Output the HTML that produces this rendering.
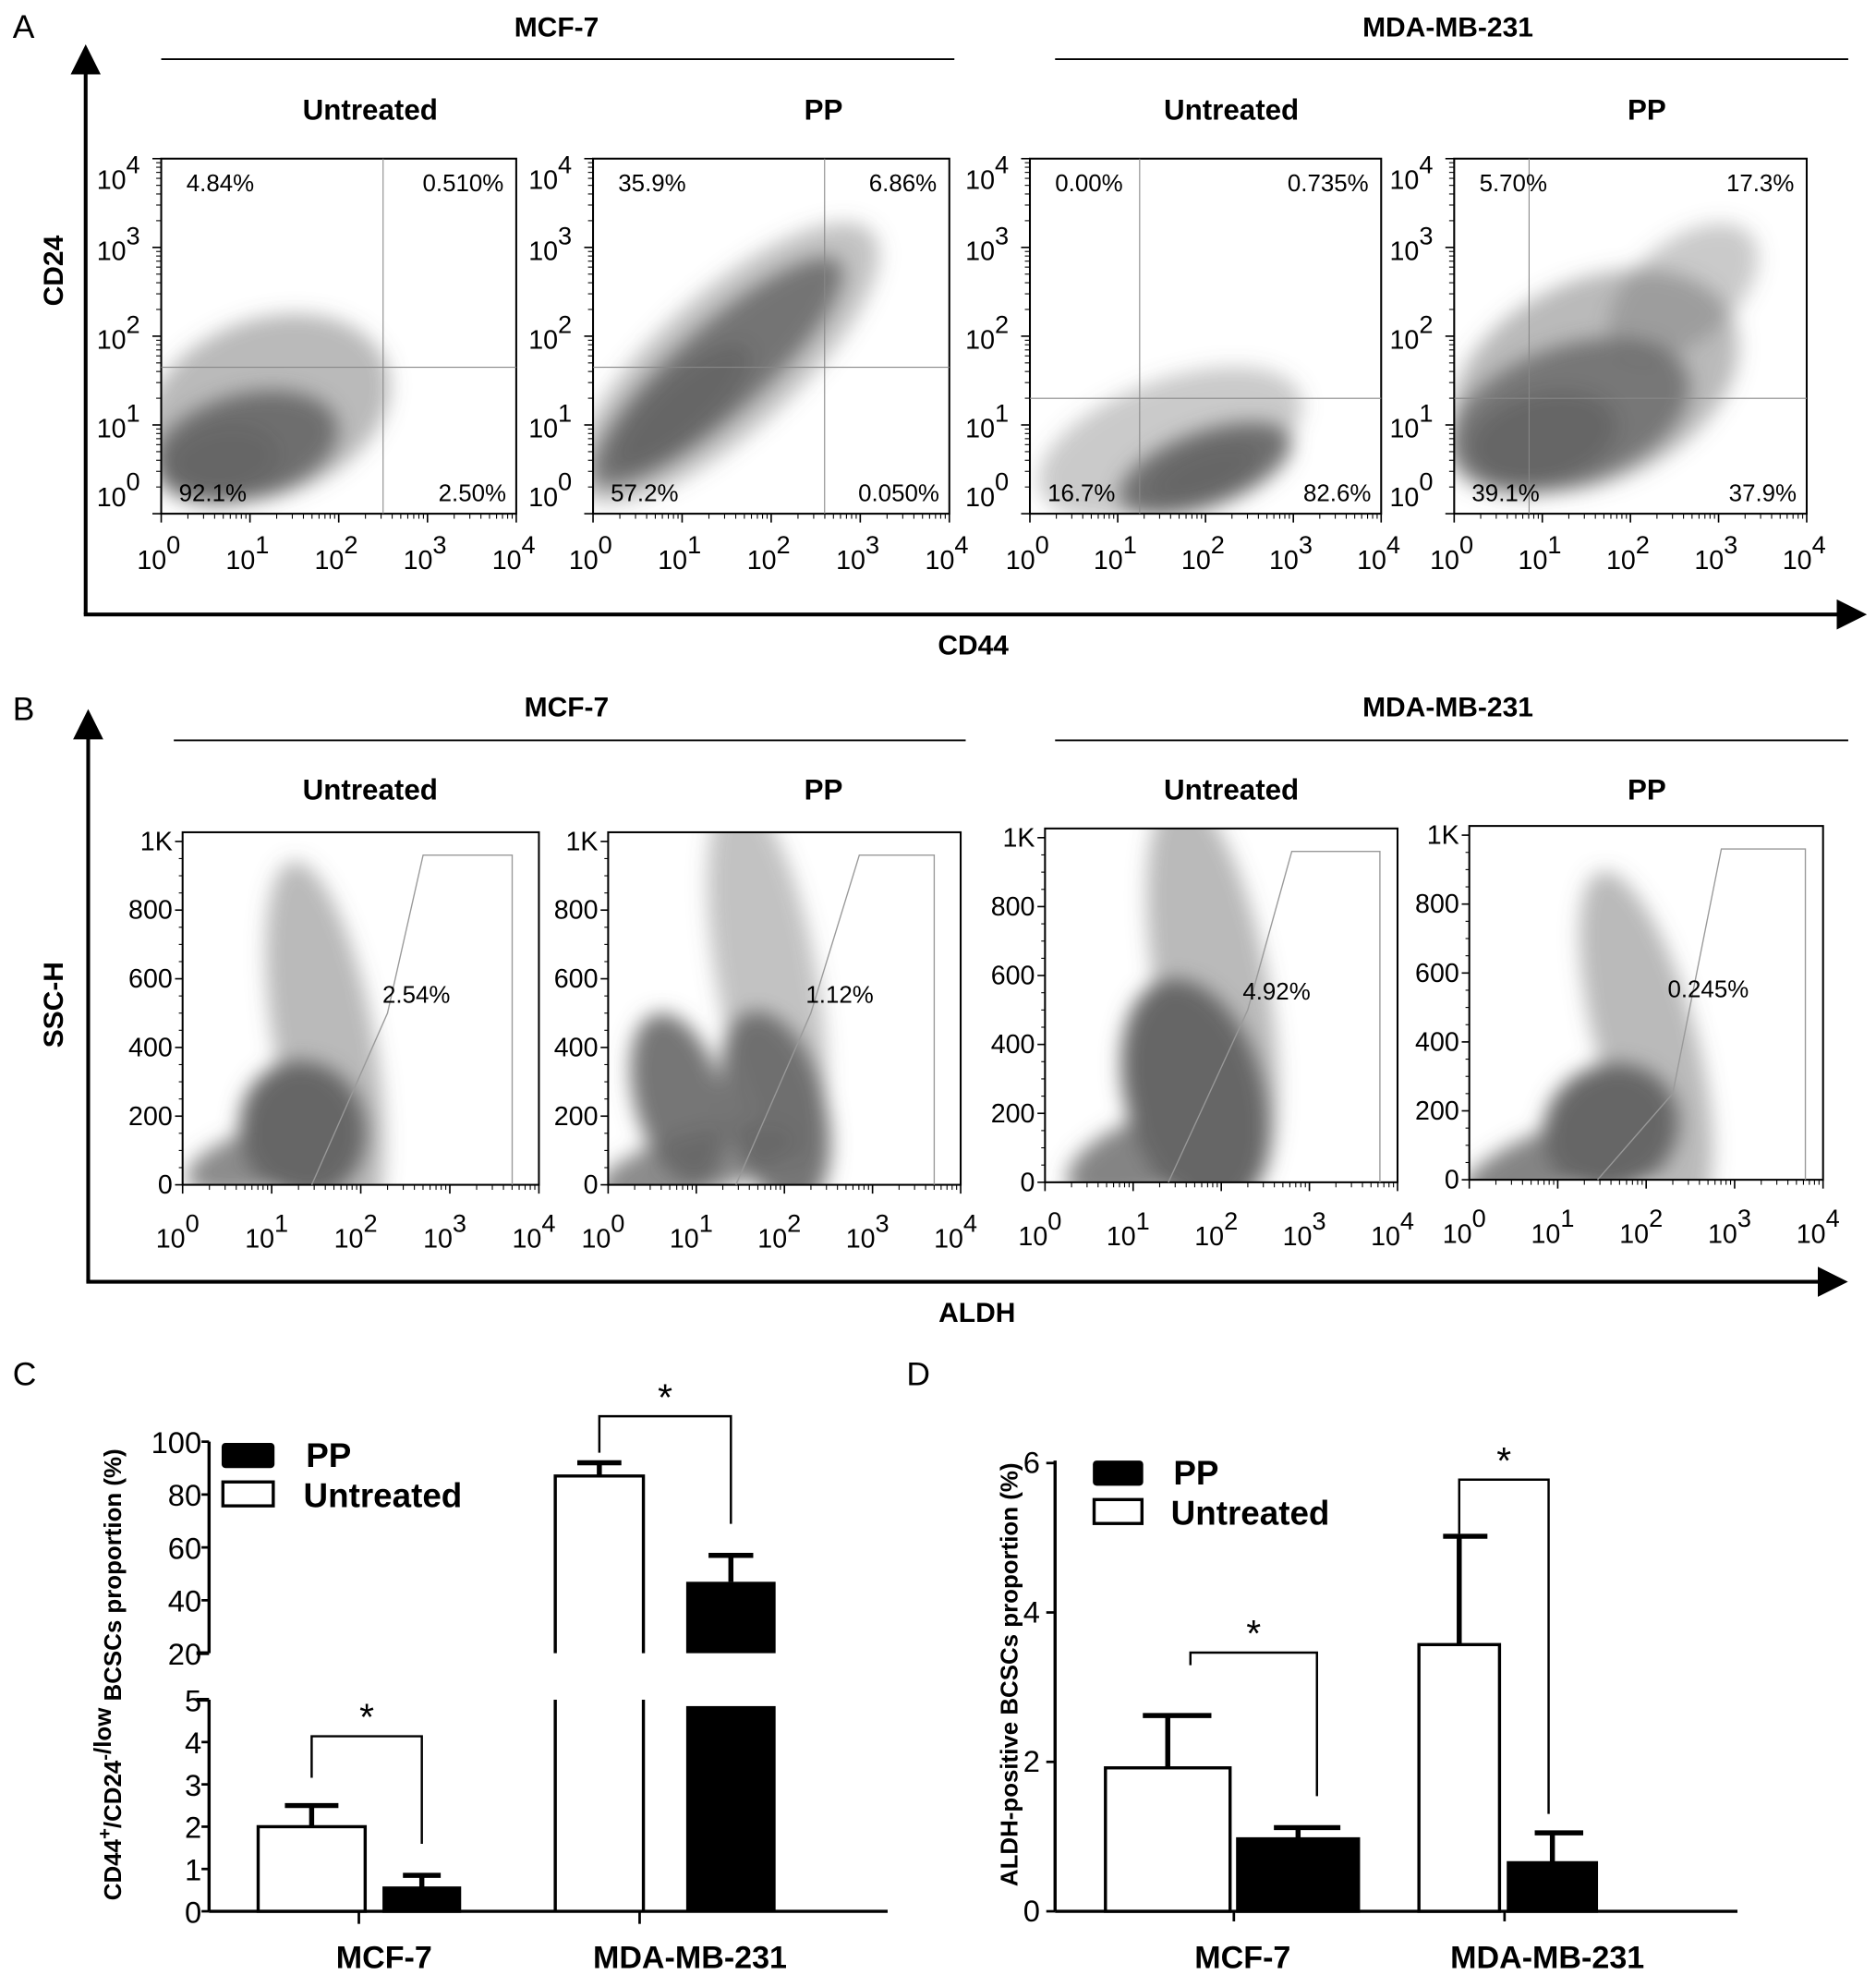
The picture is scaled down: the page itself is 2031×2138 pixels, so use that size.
<!DOCTYPE html>
<html><head><meta charset="utf-8"><style>
html,body{margin:0;padding:0;background:#fff}
svg{display:block}
text{font-family:"Liberation Sans",sans-serif;fill:#000}
</style></head><body>
<svg id="fig" width="2031" height="2138" viewBox="0 0 1490 1568.6" xmlns="http://www.w3.org/2000/svg">
<defs id="defs">
<filter id="blur" x="-50%" y="-50%" width="200%" height="200%"><feGaussianBlur stdDeviation="8"/></filter>
<marker id="arr" viewBox="0 0 10 10" refX="8" refY="5" markerWidth="8" markerHeight="8" orient="auto"><path d="M0,0L10,5L0,10z" fill="#000"/></marker>
</defs>
<g id="layer"></g>
</svg>
<script>
// ---------- data ----------
const aTitles=["Untreated","PP","Untreated","PP"];
const aQuadTL=["4.84%","35.9%","0.00%","5.70%"];
const aQuadTR=["0.510%","6.86%","0.735%","17.3%"];
const aQuadBL=["92.1%","57.2%","16.7%","39.1%"];
const aQuadBR=["2.50%","0.050%","82.6%","37.9%"];
const aGateX=[2.5,2.6,1.25,0.85];   // log CD44 gate
const aGateY=[1.65,1.65,1.3,1.3];   // log CD24 gate
const bTitles=["Untreated","PP","Untreated","PP"];
const bPct=["2.54%","1.12%","4.92%","0.245%"];
const bTicks=[0,200,400,600,800,1000];
const bTickLabels=["0","200","400","600","800","1K"];
const cCategories=["MCF-7","MDA-MB-231"];
const cUntreated=[2.0,87];
const cUntreatedErr=[2.5,92];
const cPP=[0.55,47];
const cPPErr=[0.85,57];
const cLowTicks=[0,1,2,3,4,5];
const cHighTicks=[20,40,60,80,100];
const dCategories=["MCF-7","MDA-MB-231"];
const dUntreated=[1.92,3.57];
const dUntreatedErr=[2.62,5.02];
const dPP=[0.97,0.65];
const dPPErr=[1.12,1.05];
const dTicks=[0,2,4,6];

const NS="http://www.w3.org/2000/svg";
const L=document.getElementById('layer');
const DEFS=document.getElementById('defs');
function el(tag,attrs,parent,txt){const e=document.createElementNS(NS,tag);for(const k in attrs)e.setAttribute(k,attrs[k]);if(txt!==undefined)e.textContent=txt;(parent||L).appendChild(e);return e;}
function T(x,y,s,size,opts){opts=opts||{};const e=el('text',{x:x,y:y,'font-size':size,'text-anchor':opts.anchor||'middle'},opts.parent,s);if(opts.bold)e.setAttribute('font-weight','bold');if(opts.rot)e.setAttribute('transform','rotate(-90 '+x+' '+y+')');return e;}

let t;
t=T(10,30,"A",26,{anchor:'start'});
t=T(10,572,"B",26,{anchor:'start'});
t=T(10,1100,"C",26,{anchor:'start'});
t=T(720,1100,"D",26,{anchor:'start'});

function arrowAxes(x,yTop,yBot,xRight,name){
  let a=el('line',{x1:x,y1:yBot,x2:x,y2:yTop,stroke:'#000','stroke-width':3,'marker-end':'url(#arr)'});
  
  a=el('line',{x1:x-1.5,y1:yBot,x2:xRight,y2:yBot,stroke:'#000','stroke-width':3,'marker-end':'url(#arr)'});
  
}
arrowAxes(68,40,488,1478,'panel-a');
arrowAxes(70,568,1018,1463,'panel-b');

const aClouds=[
 [[1.2,1.2,100,70,-20,.45],[0.95,0.75,75,42,-15,.9],[0.7,0.6,45,28,-10,1]],
 [[1.5,1.7,155,55,-42,.4],[1.4,1.6,130,35,-42,.85],[1.0,1.2,70,24,-42,1]],
 [[1.6,0.8,110,50,-20,.35],[2.0,0.5,72,30,-20,.9],[2.0,0.45,45,20,-20,1]],
 [[1.6,1.5,120,80,-25,.45],[1.3,1.1,100,55,-20,.8],[1.0,0.85,60,35,-15,.95],[2.6,2.5,70,40,-40,.35]]
];
const bClouds=[
 [[1.6,400,40,150,-10,.45],[1.0,80,70,25,-15,.75],[1.35,160,50,55,-15,1]],
 [[1.8,600,40,150,-10,.4],[1.0,60,80,25,-15,.75],[0.8,250,35,70,-15,.9],[1.9,220,40,80,-15,.9]],
 [[1.9,550,45,160,-10,.45],[1.2,80,70,30,-20,.8],[1.7,250,55,95,-15,1]],
 [[2.0,400,40,140,-15,.45],[1.0,60,80,25,-20,.8],[1.6,150,55,50,-30,1]]
];
const aBoxes=[[128,410],[471,754],[818,1097],[1155,1435]];
const bBoxes=[[145,428],[483,763],[830,1110],[1167,1448]];
const bTop=[661,661,658,656], bBot=[941,941,939,937];
const bGates=[[1.45,2.3,2.7,3.7],[1.45,2.3,2.85,3.7],[1.4,2.3,2.8,3.8],[1.45,2.3,2.85,3.8]];
const titleX=[294,654,978,1308];

function sup(x,y,base,exp,size,parent,anchor){
  const e=el('text',{x:x,y:y,'font-size':size,'text-anchor':anchor||'middle'},parent);
  el('tspan',{},e,base);el('tspan',{dy:-size*0.6,'font-size':size*0.95},e,exp);return e;
}
function clipFor(id,x,y,w,h){const c=el('clipPath',{id:id},DEFS);el('rect',{x:x,y:y,width:w,height:h},c);return 'url(#'+id+')';}

// Panel A plots
aBoxes.forEach((bx,i)=>{
  const g=el('g',{});
  const x0=bx[0],x1=bx[1],y0=126,y1=408;
  const sx=v=>x0+(x1-x0)*v/4, sy=v=>y1-(y1-y0)*v/4;
  const clip=el('g',{'clip-path':clipFor('ca'+i,x0,y0,x1-x0,y1-y0)},g);
  const cg=el('g',{filter:'url(#blur)'},clip);
  aClouds[i].forEach(c=>{const e=el('ellipse',{cx:sx(c[0]),cy:sy(c[1]),rx:c[2],ry:c[3],fill:'#666',opacity:c[5],transform:'rotate('+c[4]+' '+sx(c[0])+' '+sy(c[1])+')'},cg);});
  const tt=T(titleX[i],95,aTitles[i],23,{bold:true,parent:g});
  let r=el('rect',{x:x0,y:y0,width:x1-x0,height:y1-y0,fill:'none',stroke:'#000','stroke-width':1.5},g);
  let q=el('line',{x1:sx(aGateX[i]),y1:y0,x2:sx(aGateX[i]),y2:y1,stroke:'#888','stroke-width':0.8},g);
  q=el('line',{x1:x0,y1:sy(aGateY[i]),x2:x1,y2:sy(aGateY[i]),stroke:'#888','stroke-width':0.8},g);
  for(let d=0;d<=4;d++){
    el('line',{x1:sx(d),y1:y1,x2:sx(d),y2:y1+7,stroke:'#000','stroke-width':1.2},g);
    el('line',{x1:x0,y1:sy(d),x2:x0-7,y2:sy(d),stroke:'#000','stroke-width':1.2},g);
    if(d<4)for(let m=2;m<10;m++){const v=d+Math.log10(m);el('line',{x1:sx(v),y1:y1,x2:sx(v),y2:y1+4,stroke:'#000','stroke-width':0.8},g);el('line',{x1:x0,y1:sy(v),x2:x0-4,y2:sy(v),stroke:'#000','stroke-width':0.8},g);}
    let l=sup(sx(d)-2,y1+44,"10",String(d),21,g);
    l=sup(x0-34,sy(d)+(d===4?24:(d===0?-6:10)),"10",String(d),21,g);
  }
  const p=[[x0+20,y0+26,aQuadTL[i],'start'],[x1-10,y0+26,aQuadTR[i],'end'],[x0+14,y1-10,aQuadBL[i],'start'],[x1-8,y1-10,aQuadBR[i],'end']];
  p.forEach(a=>{const e=T(a[0],a[1],a[2],19,{anchor:a[3],parent:g});});
});

// Panel B plots
bBoxes.forEach((bx,i)=>{
  const g=el('g',{});
  const x0=bx[0],x1=bx[1],y0=bTop[i],y1=bBot[i];
  const sx=v=>x0+(x1-x0)*v/4, sy=v=>y1-(y1-y0)*0.974*v/1000;
  const clip=el('g',{'clip-path':clipFor('cb'+i,x0,y0,x1-x0,y1-y0)},g);
  const cg=el('g',{filter:'url(#blur)'},clip);
  bClouds[i].forEach(c=>{const e=el('ellipse',{cx:sx(c[0]),cy:sy(c[1]),rx:c[2],ry:c[3],fill:'#666',opacity:c[5],transform:'rotate('+c[4]+' '+sx(c[0])+' '+sy(c[1])+')'},cg);});
  const tt=T(titleX[i],635,bTitles[i],23,{bold:true,parent:g});
  let r=el('rect',{x:x0,y:y0,width:x1-x0,height:y1-y0,fill:'none',stroke:'#000','stroke-width':1.5},g);
  const gt=bGates[i];
  const pts=[[sx(gt[0]),sy(0)],[sx(gt[1]),sy(i===3?250:500)],[sx(gt[2]),sy(960)],[sx(gt[3]),sy(960)],[sx(gt[3]),sy(0)]];
  let gp=el('polyline',{points:pts.map(p=>p.join(',')).join(' '),fill:'none',stroke:'#999','stroke-width':1},g);
  const pc=T(sx(gt[1])-4,sy(530),bPct[i],19,{anchor:'start',parent:g});
  bTicks.forEach((v,k)=>{el('line',{x1:x0,y1:sy(v),x2:x0-6,y2:sy(v),stroke:'#000','stroke-width':1.2},g);
    const l=T(x0-8,sy(v)+7,bTickLabels[k],21,{anchor:'end',parent:g});
    if(k<5)for(let m=1;m<4;m++){const vv=v+m*50;el('line',{x1:x0,y1:sy(vv),x2:x0-3,y2:sy(vv),stroke:'#000','stroke-width':0.8},g);}});
  for(let d=0;d<=4;d++){
    el('line',{x1:sx(d),y1:y1,x2:sx(d),y2:y1+7,stroke:'#000','stroke-width':1.2},g);
    if(d<4)for(let m=2;m<10;m++){const v=d+Math.log10(m);el('line',{x1:sx(v),y1:y1,x2:sx(v),y2:y1+4,stroke:'#000','stroke-width':0.8},g);}
    const l=sup(sx(d)-4,y1+50,"10",String(d),21,g);
  }
});

function header(cx,y,lx1,lx2,ly,s,name){
  let h=T(cx,y,s,22,{bold:true});
  let l=el('line',{x1:lx1,y1:ly,x2:lx2,y2:ly,stroke:'#000','stroke-width':1.3});
}
header(442,29,128,758,47,"MCF-7",'a-mcf7-header');
header(1150,29,838,1468,47,"MDA-MB-231",'a-mda-header');
header(450,569,138,767,588,"MCF-7",'b-mcf7-header');
header(1150,569,838,1468,588,"MDA-MB-231",'b-mda-header');
t=T(50,215,"CD24",22,{bold:true,rot:true});
t=T(773,520,"CD44",22,{bold:true});
t=T(50,798,"SSC-H",22,{bold:true,rot:true});
t=T(776,1050,"ALDH",22,{bold:true});

// ---------- Panel C (broken axis) ----------
const gC=el('g',{});
const cAx=166, cLow=[1518,1350], cHigh=[1313,1145];
function yC(v){return v<=5? cLow[0]-(cLow[0]-cLow[1])*v/5 : cHigh[0]-(cHigh[0]-cHigh[1])*(v-20)/80;}
let ax=el('line',{x1:cAx,y1:cLow[0],x2:cAx,y2:cLow[1],stroke:'#000','stroke-width':2.5},gC);
ax=el('line',{x1:cAx,y1:cHigh[0],x2:cAx,y2:cHigh[1],stroke:'#000','stroke-width':2.5},gC);
ax=el('line',{x1:cAx,y1:1518,x2:705,y2:1518,stroke:'#000','stroke-width':2.5},gC);
cLowTicks.concat(cHighTicks).forEach(v=>{const w=(v===5||v===20)?10:6;el('line',{x1:cAx,y1:yC(v),x2:cAx-w,y2:yC(v),stroke:'#000','stroke-width':(v===5||v===20)?3:2},gC);
  const l=T(cAx-6,yC(v)+9,String(v),24,{anchor:'end',parent:gC});});
const cUX=[205,441],cUW=[85,70],cPX=[305,545],cPW=[60,71],cTickX=[285,508];
function barC(x,w,v,err,fill,name){
  const sw=2.5;
  if(v<=5){let r=el('rect',{x:x,y:yC(v),width:w,height:yC(0)-yC(v),fill:fill,stroke:'#000','stroke-width':sw},gC);}
  else{
    if(fill==='#000'){let r=el('rect',{x:x,y:yC(4.85),width:w,height:yC(0)-yC(4.85),fill:'#000'},gC);
      r=el('rect',{x:x,y:yC(v),width:w,height:yC(20)-yC(v),fill:'#000'},gC);}
    else{let p=el('path',{d:`M${x},${yC(0)}V${yC(5)}M${x+w},${yC(0)}V${yC(5)}M${x},${yC(20)}V${yC(v)}H${x+w}V${yC(20)}`,fill:'none',stroke:'#000','stroke-width':sw},gC);}
  }
  const cx=x+w/2;let e=el('path',{d:`M${cx},${yC(v)}V${yC(err)}M${cx-w*0.25},${yC(err)}H${cx+w*0.25}`,stroke:'#000','stroke-width':4,fill:'none'},gC);
}
cCategories.forEach((c,i)=>{
  barC(cUX[i],cUW[i],cUntreated[i],cUntreatedErr[i],'#fff','c-bar-untreated-'+i);
  barC(cPX[i],cPW[i],cPP[i],cPPErr[i],'#000','c-bar-pp-'+i);
  el('line',{x1:cTickX[i],y1:1518,x2:cTickX[i],y2:1528,stroke:'#000','stroke-width':2},gC);
  const l=T([305,548][i],1563,c,25,{bold:true,parent:gC});
  const ux=cUX[i]+cUW[i]/2,px=cPX[i]+cPW[i]/2;
  const top=Math.min(yC(cUntreatedErr[i]),yC(cPPErr[i]))-(i===0?55:37);
  const br=el('path',{d:`M${ux},${yC(cUntreatedErr[i])-(i===0?22:8)}V${top}H${px}V${yC(cPPErr[i])-25}`,fill:'none',stroke:'#000','stroke-width':1.8},gC);
  const s=T((ux+px)/2,top-5,"*",30,{parent:gC});
});
let lg=el('rect',{x:176,y:1146,width:42,height:20,rx:3,fill:'#000'},gC);
lg=el('rect',{x:177,y:1177,width:40,height:19,fill:'#fff',stroke:'#000','stroke-width':2.5},gC);
t=T(243,1165,"PP",27,{bold:true,anchor:'start',parent:gC});
t=T(241,1197,"Untreated",27,{bold:true,anchor:'start',parent:gC});
const ct=el('text',{x:96,y:1330,'font-size':19,'font-weight':'bold','text-anchor':'middle',transform:'rotate(-90 96 1330)'},gC);

el('tspan',{},ct,"CD44");el('tspan',{dy:-8,'font-size':15},ct,"+");el('tspan',{dy:8},ct,"/CD24");el('tspan',{dy:-8,'font-size':15},ct,"-");el('tspan',{},ct,"/low");el('tspan',{dy:8},ct," BCSCs proportion (%)");

// ---------- Panel D ----------
const gD=el('g',{});
const dAx=838,dY0=1518,dY6=1162;
const yD=v=>dY0-(dY0-dY6)*v/6;
ax=el('line',{x1:dAx,y1:dY0,x2:dAx,y2:dY6-2,stroke:'#000','stroke-width':2.5},gD);
ax=el('line',{x1:dAx,y1:dY0,x2:1380,y2:dY0,stroke:'#000','stroke-width':2.5},gD);
dTicks.forEach(v=>{el('line',{x1:dAx,y1:yD(v),x2:dAx-7,y2:yD(v),stroke:'#000','stroke-width':2},gD);
  const l=T(dAx-12,yD(v)+8,String(v),24,{anchor:'end',parent:gD});});
const dUX=[878,1127],dUW=[99,64],dPX=[983,1198],dPW=[96,70],dTickX=[980,1195];
dCategories.forEach((c,i)=>{
  const pairs=[[dUX[i],dUW[i],dUntreated[i],dUntreatedErr[i],'#fff','d-bar-untreated-'+i],[dPX[i],dPW[i],dPP[i],dPPErr[i],'#000','d-bar-pp-'+i]];
  pairs.forEach(p=>{
    const cx=p[0]+p[1]/2;
    let e=el('path',{d:`M${cx},${yD(p[2])}V${yD(p[3])}M${cx-p[1]*0.2},${yD(p[3])}H${cx+p[1]*0.35}`,stroke:'#000','stroke-width':4,fill:'none'},gD);
    const r=el('rect',{x:p[0],y:yD(p[2]),width:p[1],height:yD(0)-yD(p[2]),fill:p[4],stroke:'#000','stroke-width':2.5},gD);
  });
  el('line',{x1:dTickX[i],y1:dY0,x2:dTickX[i],y2:dY0+8,stroke:'#000','stroke-width':2},gD);
  const l=T([987,1229][i],1563,c,25,{bold:true,parent:gD});
  const ux=dUX[i]+dUW[i]/2-(i===0?-18:0),px=dPX[i]+dPW[i]/2+(i===0?15:-3);
  const top=Math.min(yD(dUntreatedErr[i]),yD(dPPErr[i]))-(i===0?50:45);
  const br=el('path',{d:`M${ux},${yD(dUntreatedErr[i])-(i===0?40:2)}V${top}H${px}V${yD(dPPErr[i])-(i===0?25:15)}`,fill:'none',stroke:'#000','stroke-width':1.8},gD);
  const s=T((ux+px)/2,top-5,"*",30,{parent:gD});
});
lg=el('rect',{x:868,y:1160,width:40,height:20,rx:3,fill:'#000'},gD);
lg=el('rect',{x:869,y:1191,width:38,height:19,fill:'#fff',stroke:'#000','stroke-width':2.5},gD);
t=T(932,1179,"PP",27,{bold:true,anchor:'start',parent:gD});
t=T(930,1211,"Untreated",27,{bold:true,anchor:'start',parent:gD});
t=T(808,1330,"ALDH-positive BCSCs proportion (%)",19,{bold:true,rot:true,parent:gD});
</script>
</body></html>
